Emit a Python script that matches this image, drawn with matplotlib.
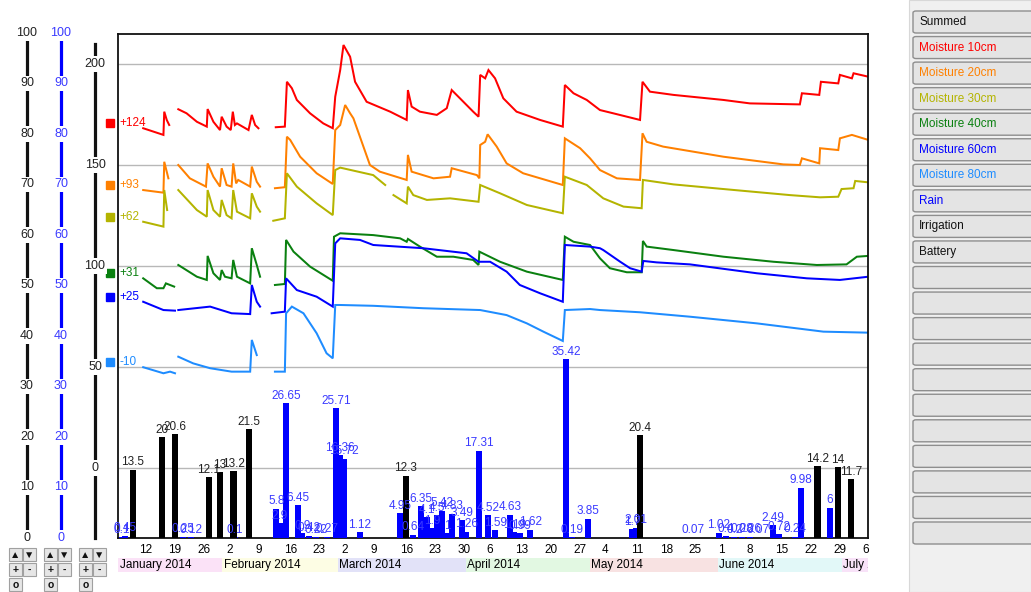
import numpy as np
import pandas as pd
import matplotlib
matplotlib.use("Agg")
import matplotlib.pyplot as plt
import matplotlib.dates as mdates
import matplotlib.transforms as mtransforms
from matplotlib.patches import Rectangle, FancyBboxPatch
from matplotlib.lines import Line2D

plt.rcParams['font.family'] = ['Liberation Sans', 'DejaVu Sans']

nan = np.nan
START = mdates.date2num(pd.Timestamp("2014-01-01"))  # day 0 of the series

# summed soil moisture, x = day of 2014 (0 = 1 Jan), nan = logger gap
m10_day = [11.9, 16.8, 17.0, 17.6, 18.2, nan,
           20.4, 22.4, 24.9, 27.3, 27.5, 28.9, 30.5, 30.9, 32.1, 33.1, 33.6, 34.1, 34.6, 37.4, 38.2, 39.0, 39.8, nan,
           44.0, 46.2, 46.7, 47.9, 49.1, 52.3, 55.5, 57.8, 58.4, 59.6, 60.4, 62.0, 63.2, 66.0, 71.7, 75.7, 76.0,
           76.9, 78.9, 83.0, 85.4, 86.6, 88.6, 91.8, 93.1, 93.5, 94.7, 95.5, 97.1, 99.1, 102.3, 108.0, 113.5,
           114.0, 116.1, 119.3, 122.5, 125.7, 132.2, 132.8, 134.6, 140.3, 152.4, 158.8, 170.9, 171.4, 175.6,
           176.0, 180.2, 180.6, 183.5, 183.9, 187.5]
m10_val = [168.2, 164.9, 176.4, 172.3, 169.8, nan,
           177.6, 175.6, 171.4, 169.0, 177.7, 171.4, 167.3, 173.9, 169.0, 167.3, 176.4, 169.8, 170.6, 167.3, 174.8, 169.8, 168.2, nan,
           168.7, 169.0, 191.2, 188.0, 182.2, 175.6, 170.6, 168.2, 183.8, 197.0, 209.4, 203.6, 191.2, 181.3, 176.4, 172.3, 187.1,
           178.9, 176.4, 174.8, 178.1, 187.1, 183.0, 176.4, 173.9, 194.6, 192.9, 197.0, 192.9, 183.0, 176.4, 172.3, 169.0,
           189.6, 185.5, 182.2, 177.2, 175.6, 172.3, 191.2, 186.3, 184.7, 182.2, 180.5, 180.0, 185.5, 184.7,
           191.2, 190.4, 194.6, 192.9, 195.4, 193.7]

m20_day = [11.9, 16.8, 17.0, 18.0, nan,
           20.4, 23.2, 27.1, 27.5, 28.9, 30.5, 30.9, 32.1, 33.3, 33.7, 34.4, 34.9, 37.8, 38.2, 39.4, 40.2, nan,
           43.8, 46.2, 46.7, 47.5, 49.9, 53.9, 57.8, 58.4, 59.6, 60.8, 62.0, 62.8, 66.8, 69.2, 75.7, 76.0, 76.9,
           82.2, 86.2, 86.6, 92.7, 93.3, 93.5, 94.7, 95.3, 97.5, 99.9, 103.9, 113.5, 114.0, 117.7, 120.1, 122.5,
           126.6, 132.2, 132.8, 133.8, 137.8, 152.4, 166.9, 170.9, 171.4, 175.6, 175.8, 180.2, 180.6, 183.5, 187.5]
m20_val = [137.6, 136.3, 151.6, 143.4, nan,
           150.0, 143.4, 139.3, 150.8, 144.2, 139.3, 148.4, 140.1, 139.3, 150.8, 140.9, 142.6, 139.3, 149.2, 141.7, 139.3, nan,
           138.5, 139.0, 164.0, 162.4, 154.1, 145.9, 140.6, 167.3, 169.8, 179.7, 175.6, 173.1, 150.0, 146.7, 142.6, 155.0, 146.7,
           143.4, 144.2, 148.4, 145.0, 143.4, 159.9, 161.5, 165.2, 159.1, 150.8, 145.9, 140.1, 163.2, 158.3, 153.3, 147.5,
           143.4, 142.6, 165.7, 161.5, 159.1, 154.1, 150.3, 150.0, 153.3, 150.8, 158.3, 157.4, 163.2, 164.9, 162.4]

m30_day = [11.9, 16.8, 17.0, 17.7, nan,
           20.4, 24.9, 27.3, 27.5, 28.9, 30.5, 30.9, 32.1, 33.3, 33.7, 34.6, 37.8, 38.2, 39.4, 40.2, nan,
           43.4, 46.2, 46.7, 49.1, 53.9, 57.8, 58.4, 59.6, 67.6, 70.5, nan,
           72.5, 75.7, 76.0, 77.3, 80.6, 86.2, 93.1, 93.5, 98.3, 104.8, 113.5, 114.0, 119.3, 123.3, 128.2, 132.6,
           132.9, 140.3, 152.4, 168.5, 175.8, 180.2, 181.0, 183.9, 184.3, 187.5]
m30_val = [121.9, 119.5, 137.6, 127.7, nan,
           137.6, 127.7, 124.4, 137.6, 127.7, 124.4, 132.7, 125.2, 123.6, 137.6, 126.9, 123.6, 136.0, 129.4, 126.9, nan,
           122.4, 123.6, 145.9, 139.3, 131.0, 125.2, 147.5, 148.7, 145.0, 140.1, nan,
           135.1, 131.0, 139.3, 135.1, 132.7, 133.5, 131.8, 140.1, 136.0, 130.2, 126.1, 144.2, 140.1, 133.5, 129.4, 128.6,
           142.6, 140.4, 138.1, 135.1, 134.0, 134.3, 138.1, 138.5, 142.1, 141.4]

m40_day = [11.9, 15.2, 16.8, 17.4, 19.4, nan,
           20.4, 24.9, 27.3, 27.5, 28.9, 30.5, 30.9, 31.7, 33.3, 33.7, 34.6, 37.8, 38.2, 39.4, 40.2, nan,
           43.8, 46.2, 46.5, 48.3, 52.3, 57.8, 58.1, 59.6, 67.6, 74.1, 75.7, 76.0, 78.9, 83.0, 87.0, 91.8, 93.1,
           93.3, 98.3, 104.8, 113.5, 114.0, 116.1, 120.1, 122.5, 124.9, 129.0, 132.6, 132.9, 133.8, 140.3, 152.4,
           164.5, 175.0, 182.2, 184.7, 187.5]
m40_val = [93.9, 89.0, 89.0, 91.4, 89.8, nan,
           100.5, 94.7, 93.1, 105.0, 96.4, 93.1, 98.0, 94.7, 93.9, 103.0, 94.7, 91.4, 108.8, 100.5, 94.7, nan,
           90.6, 91.1, 112.9, 107.1, 99.7, 92.7, 114.5, 116.2, 115.3, 113.7, 112.0, 113.4, 109.6, 104.6, 104.6, 103.0, 100.5,
           107.1, 102.1, 97.2, 93.1, 114.5, 112.0, 110.4, 103.8, 98.9, 96.9, 96.9, 112.4, 109.6, 107.9, 104.6,
           102.1, 100.5, 100.8, 104.6, 105.0]

m60_day = [11.9, 16.8, 19.6, nan,
           20.4, 28.1, 33.3, 37.8, 38.2, 39.4, 40.2, nan,
           43.0, 46.2, 46.5, 49.1, 53.9, 57.8, 58.4, 59.6, 64.4, 67.6, 79.7, 90.2, 93.1, 95.9, 99.9, 103.1, 108.0,
           113.5, 114.0, 120.1, 122.5, 123.3, 127.4, 129.8, 132.6, 133.0, 136.2, 144.3, 160.5, 172.6, 180.6, 187.5]
m60_val = [82.3, 78.2, 77.9, nan,
           78.2, 79.9, 76.6, 76.2, 90.6, 82.3, 79.9, nan,
           76.6, 77.4, 93.9, 88.1, 84.8, 79.9, 111.2, 113.7, 112.9, 110.4, 108.8, 106.3, 102.1, 102.1, 97.2, 90.6, 86.5,
           82.3, 110.4, 109.6, 108.8, 107.9, 102.1, 98.9, 97.2, 102.5, 101.8, 100.8, 96.4, 93.9, 93.1, 94.7]

m80_day = [11.9, 16.8, 18.4, 19.6, nan,
           20.4, 24.0, 28.1, 33.3, 37.8, 38.2, 39.4, nan,
           43.8, 46.2, 46.5, 47.9, 50.7, 53.9, 56.3, 57.8, 58.4, 59.6, 67.6, 79.7, 93.5, 99.9, 104.8, 108.8, 113.5,
           114.0, 120.1, 122.5, 132.2, 144.3, 160.5, 176.6, 187.5]
m80_val = [49.9, 46.9, 47.7, 46.9, nan,
           55.1, 51.8, 49.4, 47.7, 47.7, 63.4, 55.9, nan,
           47.7, 47.7, 76.6, 79.9, 76.6, 66.7, 56.8, 54.3, 80.7, 80.7, 80.3, 79.1, 78.2, 75.7, 71.6, 67.5, 62.9,
           78.2, 78.7, 78.2, 77.1, 74.9, 71.6, 67.5, 67.0]

offset_labels = ["+124", "+93", "+62", "+31", "+25", "-10"]
depth_names = ["Moisture 10cm", "Moisture 20cm", "Moisture 30cm", "Moisture 40cm", "Moisture 60cm", "Moisture 80cm"]

# daily totals (mm)
irrig_day = [9.4, 16.5, 19.6, 27.8, 30.5, 33.7, 37.5, 75.5, 132.2, 175.1, 180.1, 183.3]
irrig_mm = [13.5, 20, 20.6, 12.1, 13, 13.2, 21.5, 12.3, 20.4, 14.2, 14, 11.7]

rain_day = [6.8, 7.5, 21.5, 23.5, 34.1, 44.1, 45.0, 46.5, 49.4, 50.4, 52.1, 53.8, 56.4, 58.6, 59.6, 60.5,
            64.4, 74.1, 77.2, 79.2, 80.6, 81.8, 83.1, 84.3, 85.5, 86.7, 89.1, 90.1, 93.2, 95.4, 97.1, 100.7,
            101.7, 103.1, 105.6, 114.3, 115.7, 119.6, 130.3, 131.2, 145.0, 151.3, 153.0, 155.0, 156.9, 158.8,
            160.8, 164.4, 165.9, 169.7, 171.2, 178.2]
rain_mm = [0.1, 0.45, 0.25, 0.12, 0.1, 5.8, 2.9, 26.65, 6.45, 0.9, 0.42, 0.22, 0.27, 25.71, 16.36, 15.72,
           1.12, 4.95, 0.64, 6.35, 4.1, 1.9, 4.5, 5.42, 1.0, 4.83, 3.49, 1.26, 17.31, 4.52, 1.59, 4.63,
           1.19, 0.99, 1.62, 35.42, 0.19, 3.85, 1.7, 2.01, 0.07, 1.02, 0.4, 0.2, 0.28, 0.26,
           0.07, 2.49, 0.72, 0.24, 9.98, 6]

month_names = ["January 2014", "February 2014", "March 2014", "April 2014", "May 2014", "June 2014", "July 2014"]
month_starts = ["2014-01-01", "2014-02-01", "2014-03-01", "2014-04-01", "2014-05-01", "2014-06-01", "2014-07-01", "2014-08-01"]

button_labels = ["Summed"] + depth_names + ["Rain", "Irrigation", "Battery"] + [""] * 11

depth_colors = ["#ff0000", "#ff8000", "#b4b400", "#0a8010", "#0000ff", "#1e8cff"]
month_colors = ["#fbe2f7", "#fdfde4", "#e2e2f8", "#e2f8e2", "#f8e2e2", "#e2f8f8", "#f8e2f8"]
button_colors = ["#111111"] + depth_colors + ["#0000ff", "#111111", "#111111"] + ["#111111"] * 11

W, H = 1031, 592
fig = plt.figure(figsize=(W / 100, H / 100), dpi=100)
FS = 8.5


def fx(px):
    return px / W


def fy(py):
    return 1 - py / H


ax = fig.add_axes([fx(118), fy(538), fx(868) - fx(118), fy(34) - fy(538)])
ax2 = ax.twinx()

# moisture lines
series = [(m10_day, m10_val), (m20_day, m20_val), (m30_day, m30_val),
          (m40_day, m40_val), (m60_day, m60_val), (m80_day, m80_val)]
side = mtransforms.blended_transform_factory(ax.transAxes, ax.transData)
for (d, v), col, lab in zip(series, depth_colors, offset_labels):
    ax.plot(START + np.array(d), v, color=col, lw=1.45, solid_joinstyle='miter')
    y0 = v[0] + 2.5
    ax.plot([-0.011], [y0], marker='s', ms=6, color=col, transform=side, clip_on=False)
    ax.text(0.002, y0, lab, color=col, fontsize=FS, va='center', ha='left', transform=side)

ax.set_xlim(START + 5.8, START + 187.4)
ax.set_ylim(-34.65, 214.85)
ax.set_yticks([0, 50, 100, 150, 200])
ax.yaxis.grid(True, color='#b8b8b8', lw=1)
ax.tick_params(axis='y', left=False, labelleft=False)
for s in ax.spines.values():
    s.set_color('#111111')
    s.set_linewidth(1.3)
for s in ax2.spines.values():
    s.set_visible(False)

# weekly ticks on Sundays, label sits to the right of the day
sundays = pd.date_range("2014-01-12", "2014-07-06", freq="W-SUN")
ax.set_xticks(mdates.date2num(sundays), [str(d.day) for d in sundays], ha='left')
ax.tick_params(axis='x', length=0, pad=4.5, labelsize=FS)

# rain and irrigation bars
ax2.set_ylim(0, 99.8)
ax2.tick_params(axis='y', right=False, labelright=False)
ax2.bar(START + np.array(rain_day), rain_mm, width=1.4, color='#0000ff', zorder=2)
ax2.bar(START + np.array(irrig_day), irrig_mm, width=1.6, color='#000000', zorder=3)
for d, v in zip(rain_day, rain_mm):
    ax2.annotate(f"{v:g}", (START + d, v), xytext=(0, 1), textcoords='offset points',
                 ha='center', va='bottom', fontsize=FS, color='#3a3aff')
for d, v in zip(irrig_day, irrig_mm):
    ax2.annotate(f"{v:g}", (START + d, v), xytext=(0, 1), textcoords='offset points',
                 ha='center', va='bottom', fontsize=FS, color='#222222')

# month bands under the date axis
band = mtransforms.blended_transform_factory(ax.transData, ax.transAxes)
clip = mtransforms.TransformedBbox(mtransforms.Bbox([[0, -0.2], [1, 0]]), ax.transAxes)
x0, x1 = ax.get_xlim()
edges = mdates.date2num(pd.to_datetime(month_starts))
for name, col, a, b in zip(month_names, month_colors, edges[:-1], edges[1:]):
    a, b = max(a, x0), min(b, x1)
    ax.add_patch(Rectangle((a, -0.068), b - a, 0.028, transform=band, facecolor=col,
                           edgecolor='none', clip_on=False))
    t = ax.text(a + 0.4, -0.054, name, transform=band, fontsize=FS, va='center', ha='left')
    t.set_clip_box(clip)
    t.set_clip_on(True)

# value scales on the left
bar_scale = mtransforms.blended_transform_factory(fig.transFigure, ax2.transData)
moist_scale = mtransforms.blended_transform_factory(fig.transFigure, ax.transData)
frac_scale = mtransforms.blended_transform_factory(fig.transFigure, ax.transAxes)
scales = [(27, bar_scale, '#111111', '#222222', range(0, 101, 10), (0, 100)),
          (61, bar_scale, '#0000ff', '#3a3aff', range(0, 101, 10), (0, 100))]
for px, tr, lc, tc, ticks, (lo, hi) in scales:
    fig.add_artist(Line2D([fx(px)] * 2, [lo, hi], transform=tr, color=lc, lw=2.3))
    for v in ticks:
        fig.text(fx(px), v, str(v), transform=tr, ha='center', va='center', fontsize=FS + 0.5, color=tc,
                 bbox=dict(facecolor='white', edgecolor='none', pad=1.2))
fig.add_artist(Line2D([fx(95)] * 2, [0, 0.98], transform=frac_scale, color='#111111', lw=2.3))
for v in [0, 50, 100, 150, 200]:
    fig.text(fx(95), v, str(v), transform=moist_scale, ha='center', va='center', fontsize=FS + 0.5,
             color='#222222', bbox=dict(facecolor='white', edgecolor='none', pad=1.2))


def small_button(px, py, w, h, label):
    fig.add_artist(Rectangle((fx(px), fy(py + h)), w / W, h / H, transform=fig.transFigure,
                             facecolor='#e6e6e6', edgecolor='#a0a0a0', lw=0.8))
    fig.text(fx(px + w / 2), fy(py + h / 2), label, ha='center', va='center', fontsize=7.5,
             color='#111111', fontweight='bold')


# scale controls under each scale
for gx in [9, 44, 79]:
    small_button(gx, 548, 13, 13, "▲")
    small_button(gx + 14, 548, 13, 13, "▼")
    small_button(gx, 563, 13, 13, "+")
    small_button(gx + 14, 563, 13, 13, "-")
    small_button(gx, 578, 13, 13, "o")

# series selector panel
fig.add_artist(Rectangle((fx(909), 0), 1 - fx(909), 1, transform=fig.transFigure,
                         facecolor='#f0f0f0', edgecolor='#d8d8d8', lw=0.8))
for i, (lab, col) in enumerate(zip(button_labels, button_colors)):
    top = 11 + i * 25.55
    fig.add_artist(FancyBboxPatch((fx(913), fy(top + 22)), fx(1036) - fx(913), 22 / H,
                                  boxstyle='round,pad=0,rounding_size=0.003', transform=fig.transFigure,
                                  facecolor='#e4e4e4', edgecolor='#8e8e8e', lw=1))
    fig.text(fx(919), fy(top + 11), lab, ha='left', va='center', fontsize=FS, color=col)

fig.savefig("out.png", dpi=100)
